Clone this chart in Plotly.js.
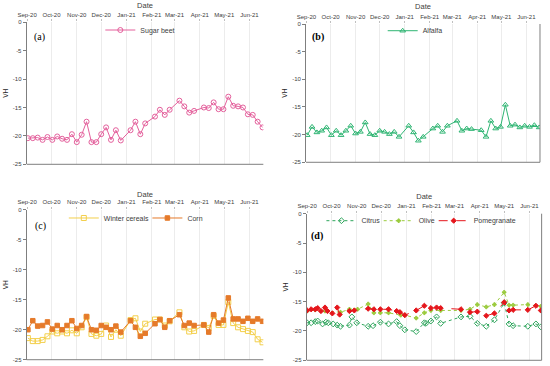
<!DOCTYPE html>
<html>
<head>
<meta charset="utf-8">
<script src="https://cdn.plot.ly/plotly-3.0.1.min.js"></script>
<style>html,body{margin:0;padding:0;background:#fff;}#chart{width:550px;height:366px;}</style>
</head>
<body>
<div id="chart"></div>
<script>
// Sentinel-1 acquisition dates used in panels (a)-(c)
const s1Dates = [
  '2020-09-02','2020-09-08','2020-09-14','2020-09-20','2020-09-26',
  '2020-10-02','2020-10-08','2020-10-14','2020-10-20','2020-10-26',
  '2020-11-01','2020-11-07','2020-11-13','2020-11-19','2020-11-25',
  '2020-12-01','2020-12-07','2020-12-13','2020-12-19','2020-12-25',
  '2021-01-06','2021-01-12','2021-01-18','2021-01-24',
  '2021-02-05','2021-02-11','2021-02-17','2021-02-23',
  '2021-03-07','2021-03-13','2021-03-19','2021-03-25',
  '2021-04-06','2021-04-12','2021-04-18','2021-04-24','2021-04-30',
  '2021-05-06','2021-05-12','2021-05-18','2021-05-24','2021-05-30',
  '2021-06-05','2021-06-11','2021-06-17'
];
const sugarBeet = [-20.4,-20.4,-20.3,-20.7,-20.2,-20.7,-20.1,-20.5,-20.7,-19.7,-21.1,-19.8,-17.5,-21.1,-21.1,-19.7,-18.5,-20.7,-19.0,-20.8,
  -19.0,-17.5,-19.7,-17.8,-16.6,-15.4,-16.3,-15.4,-13.8,-14.8,-15.9,-15.6,
  -15.0,-15.1,-14.1,-15.3,-15.3,-13.1,-14.7,-14.8,-15.0,-16.2,-16.3,-17.5,-18.5];
const alfalfa = [-20.1,-18.6,-19.6,-19.3,-18.7,-20.1,-19.3,-20.1,-19.3,-18.4,-19.8,-19.5,-17.8,-19.9,-20.1,-19.3,-19.5,-19.9,-19.5,-20.4,
  -18.4,-19.6,-21.1,-20.4,-18.9,-18.4,-19.5,-18.4,-17.5,-19.3,-18.9,-19.0,
  -19.2,-20.4,-17.5,-18.9,-18.6,-14.6,-18.4,-18.2,-18.7,-18.4,-18.6,-18.3,-18.7];
const winterCereals = [-21.4,-21.9,-21.9,-21.7,-21.1,-20.3,-20.6,-20.3,-20.6,-20.1,-20.6,-19.6,-17.9,-20.7,-21.0,-20.7,-19.3,-21.2,-20.0,-21.0,
  -18.4,-18.1,-20.3,-19.0,-18.3,-18.3,-19.3,-18.6,-17.1,-19.6,-20.3,-20.2,
  -19.2,-19.7,-17.7,-19.2,-19.2,-15.4,-18.9,-19.6,-19.9,-20.2,-20.4,-21.6,-22.1];
const corn = [-20.0,-18.5,-19.4,-19.3,-18.7,-19.9,-19.3,-20.0,-19.3,-18.5,-19.8,-19.3,-17.8,-20.0,-20.1,-19.3,-19.6,-20.0,-19.4,-20.4,
  -18.5,-19.6,-21.1,-20.6,-19.0,-18.3,-19.6,-18.5,-17.5,-19.3,-18.9,-19.3,
  -19.2,-20.4,-17.5,-18.9,-18.4,-14.7,-18.2,-18.2,-18.6,-18.1,-18.6,-18.2,-18.6];

// Panel (d)
const citrusDates = ['2020-09-01','2020-09-06','2020-09-11','2020-09-14','2020-09-20','2020-09-24','2020-09-27','2020-10-03','2020-10-08','2020-10-12',
  '2020-10-23','2020-10-26','2020-11-01','2020-11-15','2020-11-21','2020-11-30','2020-12-10','2020-12-20','2020-12-24','2020-12-30',
  '2021-01-13','2021-01-23','2021-01-25','2021-01-31','2021-02-07','2021-02-12','2021-03-09','2021-03-20','2021-03-29','2021-04-09',
  '2021-04-19','2021-05-01','2021-05-07','2021-05-12','2021-05-30','2021-06-09','2021-06-15'];
const citrus = [-18.6,-18.6,-18.4,-18.3,-18.8,-18.5,-18.6,-18.8,-19.0,-19.2,
  -19.0,-17.6,-18.6,-19.2,-19.1,-18.5,-18.8,-18.4,-19.1,-19.8,
  -20.1,-18.6,-18.7,-18.3,-17.6,-18.7,-17.6,-17.5,-18.7,-19.2,
  -18.1,-15.2,-18.8,-19.1,-19.2,-18.8,-19.3];
const oliveDates = ['2020-09-01','2020-09-11','2020-09-23','2020-10-12','2020-10-23','2020-11-02','2020-11-15','2020-11-22','2020-11-30','2020-12-10',
  '2020-12-25','2020-12-30','2021-01-13','2021-01-23','2021-01-31','2021-02-12','2021-03-09','2021-03-20','2021-03-29','2021-04-09',
  '2021-04-19','2021-05-01','2021-05-07','2021-05-12','2021-05-30','2021-06-15'];
const olive = [-16.6,-16.4,-16.6,-16.8,-16.3,-16.3,-15.4,-16.9,-16.9,-16.9,
  -17.3,-17.3,-17.8,-16.9,-16.5,-16.5,-16.5,-16.3,-15.5,-15.9,
  -15.5,-13.4,-15.6,-15.6,-15.5,-15.8];
const pomegranateDates = ['2020-09-01','2020-09-06','2020-09-11','2020-09-14','2020-09-18','2020-09-23','2020-09-26','2020-10-02','2020-10-08','2020-10-11',
  '2020-10-23','2020-10-29','2020-11-15','2020-11-22','2020-11-30','2020-12-10','2020-12-20','2020-12-24','2020-12-30','2021-01-13',
  '2021-01-23','2021-01-31','2021-02-07','2021-02-12','2021-03-09','2021-03-20','2021-03-29','2021-04-09','2021-04-19','2021-05-01',
  '2021-05-07','2021-05-12','2021-05-30','2021-06-09','2021-06-15'];
const pomegranate = [-16.5,-16.3,-16.3,-16.1,-16.6,-16.0,-16.6,-17.0,-16.0,-17.2,
  -16.6,-16.5,-16.2,-16.3,-16.3,-16.3,-16.6,-16.8,-17.3,-16.5,
  -15.7,-16.1,-16.0,-16.1,-16.3,-16.8,-16.7,-17.4,-17.0,-15.1,
  -16.5,-16.4,-16.4,-15.7,-16.5];

const yTickVals = [0,-5,-10,-15,-20,-25];
const yTickText = ['0','-5','-10','-15','-20','-25'];
const panelLabels = ['(a)','(b)','(c)','(d)'];

const FONT = 'Liberation Sans, Arial, sans-serif';
const C = {sugar:'#e4609c', alfalfa:'#2fb573', winter:'#f3cf4b', corn:'#e57a2a', citrus:'#2ea55c', olive:'#9bcb3e', pome:'#e5161c'};

function tr(x, y, name, ax, leg, color, symbol, dash, msize){
  return {
    x: x, y: y, name: name, type:'scatter', mode:'lines+markers',
    xaxis: 'x'+ax, yaxis: 'y'+ax, legend: leg, showlegend: true,
    line: {color: color, width: 1, dash: dash || 'solid'},
    marker: {symbol: symbol, size: msize || 5, color: color, line: {color: color, width: 1}}
  };
}

const data = [
  tr(s1Dates, sugarBeet, 'Sugar beet', '', 'legend', C.sugar, 'circle-open'),
  tr(s1Dates, alfalfa, 'Alfalfa', '2', 'legend2', C.alfalfa, 'triangle-up-open'),
  tr(s1Dates, winterCereals, 'Winter cereals', '3', 'legend3', C.winter, 'square-open'),
  tr(s1Dates, corn, 'Corn', '3', 'legend4', C.corn, 'square', 'solid', 4.5),
  tr(citrusDates, citrus, 'Citrus', '4', 'legend5', C.citrus, 'diamond-open', 'dot', 4.5),
  tr(oliveDates, olive, 'Olive', '4', 'legend6', C.olive, 'cross', 'dot', 3),
  tr(pomegranateDates, pomegranate, 'Pomegranate', '4', 'legend7', C.pome, 'diamond', 'dash', 4)
];

function xax(domain, anchor, end, standoff){
  return {
    domain: domain, anchor: anchor, type:'date', side:'top',
    range: ['2020-08-31 12:00', end],
    tick0: '2020-09-01', dtick: 'M1', tickformat: '%b-%y',
    tickfont: {family: FONT, size: 6, color: '#404040'},
    ticks: 'outside', ticklen: 2, tickcolor: '#bfbfbf',
    showgrid: true, gridcolor: '#ececec', gridwidth: 1,
    showline: false, zeroline: false,
    title: {text: 'Date', font: {family: FONT, size: 7.5, color: '#404040'}, standoff: standoff}
  };
}
function yax(domain, anchor){
  return {
    domain: domain, anchor: anchor, range: [-25, 0],
    tickvals: yTickVals, ticktext: yTickText,
    tickfont: {family: FONT, size: 6, color: '#404040'},
    ticks: 'outside', ticklen: 3, tickcolor: '#7f7f7f',
    showline: true, linecolor: '#7f7f7f', linewidth: 1,
    showgrid: false, zeroline: false,
    title: {text: 'VH', font: {family: FONT, size: 6.5, color: '#262626'}, standoff: 3}
  };
}
function leg(x, y){
  return {x: x, y: y, xanchor: 'left', yanchor: 'middle', bgcolor: 'rgba(0,0,0,0)', borderwidth: 0,
    font: {family: FONT, size: 7, color: '#404040'}, itemwidth: 30, visible: true};
}
function ann(text, x, y, bold){
  return {text: bold ? '<b>'+text+'</b>' : text, x: x, y: y, xref:'paper', yref:'paper', showarrow:false,
    xanchor:'center', yanchor:'middle', font: {family:'Liberation Serif, Times New Roman, serif', size: 10, color:'#000'}};
}
function bottomLine(ax){
  return {type:'line', xref: 'x'+ax+' domain', yref: 'y'+ax+' domain', x0:0, x1:1, y0:0, y1:0, line:{color:'#7f7f7f', width:1}};
}
function rightLine(ax){
  return {type:'line', xref: 'x'+ax+' domain', yref: 'y'+ax+' domain', x0:1, x1:1, y0:0, y1:1, line:{color:'#7f7f7f', width:1}};
}

const layout = {
  width: 550, height: 366,
  margin: {l:0, r:0, t:0, b:0},
  showlegend: true,
  paper_bgcolor: '#fff', plot_bgcolor: '#fff',
  xaxis:  xax([0.0485, 0.4788], 'y',  '2021-06-18', 2),
  yaxis:  yax([0.5511, 0.9391], 'x'),
  xaxis2: xax([0.5564, 0.9818], 'y2', '2021-06-18', 2),
  yaxis2: yax([0.5566, 0.9344], 'x2'),
  xaxis3: xax([0.0485, 0.4788], 'y3', '2021-06-18', 0),
  yaxis3: yax([0.0172, 0.4270], 'x3'),
  xaxis4: xax([0.5576, 0.9848], 'y4', '2021-06-16', 2),
  yaxis4: yax([0.0156, 0.4161], 'x4'),
  legend:  leg(0.1824, 0.918),
  legend2: leg(0.6958, 0.9161),
  legend3: leg(0.1160, 0.4044),
  legend4: leg(0.2680, 0.4044),
  legend5: leg(0.5844, 0.397),
  legend6: leg(0.6885, 0.397),
  legend7: leg(0.7885, 0.397),
  annotations: [
    ann(panelLabels[0], 0.0727, 0.898, false),
    ann(panelLabels[1], 0.578, 0.8997, true),
    ann(panelLabels[2], 0.0745, 0.3833, false),
    ann(panelLabels[3], 0.5764, 0.356, true)
  ],
  shapes: [bottomLine(''), bottomLine('2'), bottomLine('3'), bottomLine('4'), rightLine('2'), rightLine('4')]
};

Plotly.newPlot('chart', data, layout, {displayModeBar: false, staticPlot: true});
</script>
</body>
</html>
